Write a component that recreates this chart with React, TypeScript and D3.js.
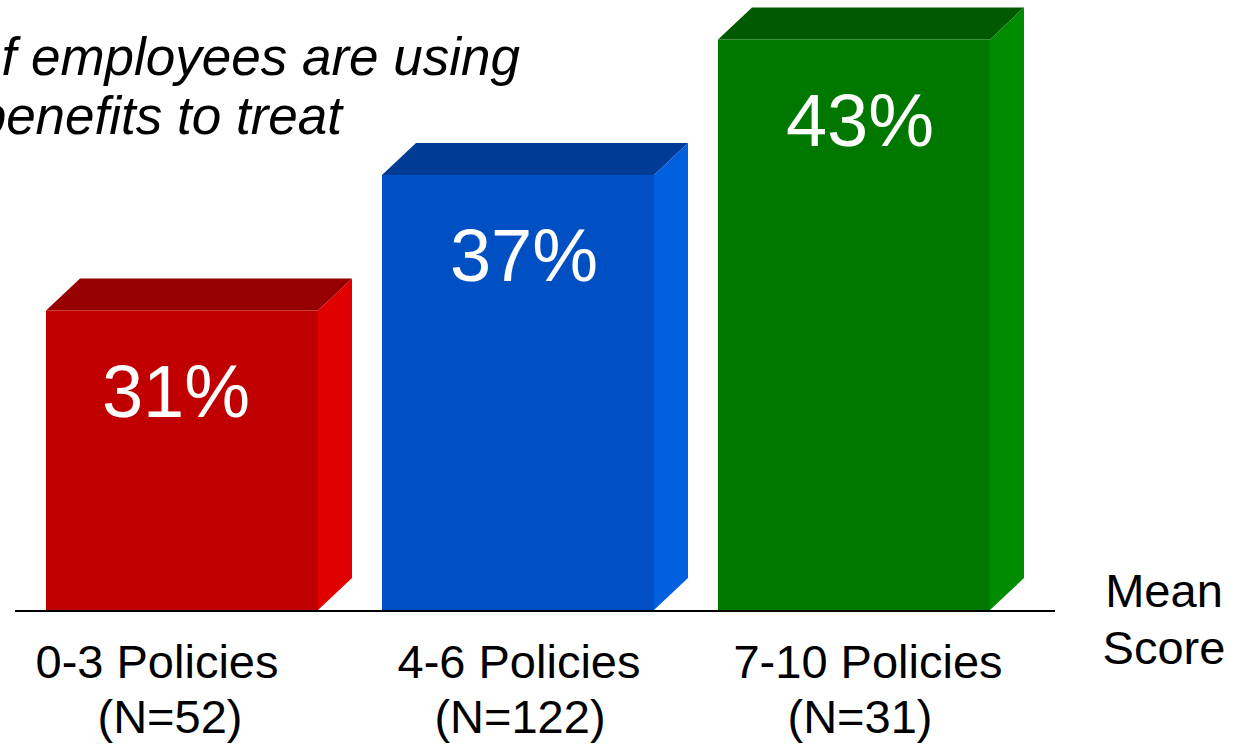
import React from "react";
import * as d3 from "d3";

const categories = ["0-3 Policies", "4-6 Policies", "7-10 Policies"];
const sampleSizes = ["(N=52)", "(N=122)", "(N=31)"];
const values = [31, 37, 43];
const frontColors = ["#C00000", "#0050C3", "#007800"];
const topColors = ["#960000", "#003C96", "#005A00"];
const sideColors = ["#E00000", "#0060E0", "#008C00"];
const titleLines = ["% of employees are using", "benefits to treat"];

// horizontal nudges for the text blocks under and inside each bar
const nameShift = [-25, 1, 14];
const sizeShift = [-12, 2, 6];
const valueShift = [-6, 6, 6];

const W = 1241;
const H = 745;
const baseY = 610;
const depthX = 34;
const depthY = 32;
const font = "'Liberation Sans', Arial, sans-serif";

export default function App() {
  const x = d3
    .scaleBand<string>()
    .domain(categories)
    .range([46, 990])
    .paddingInner(64 / 336)
    .paddingOuter(0);
  const y = d3.scaleLinear().domain([17.74, 43]).range([baseY, 39.5]);
  const bw = x.bandwidth();

  return (
    <svg
      width={W}
      height={H}
      style={{ position: "fixed", left: 0, top: 0, background: "#fff" }}
    >
      {/* title, running off the left edge */}
      <text
        x={520}
        y={75}
        textAnchor="end"
        fontFamily={font}
        fontStyle="italic"
        fontSize={53}
        fill="#000"
      >
        {titleLines[0]}
      </text>
      <text
        x={342}
        y={134}
        textAnchor="end"
        fontFamily={font}
        fontStyle="italic"
        fontSize={53}
        fill="#000"
      >
        {titleLines[1]}
      </text>

      {categories.map((c, i) => {
        const x0 = x(c) as number;
        const x1 = x0 + bw;
        const cx = x0 + bw / 2;
        const yt = y(values[i]);
        const top = [
          [x0, yt],
          [x0 + depthX, yt - depthY],
          [x1 + depthX, yt - depthY],
          [x1, yt],
        ];
        const side = [
          [x1, yt],
          [x1 + depthX, yt - depthY],
          [x1 + depthX, baseY - depthY],
          [x1, baseY],
        ];
        const pts = (p: number[][]) => p.map((q) => q.join(",")).join(" ");
        return (
          <g key={c}>
            <polygon points={pts(top)} fill={topColors[i]} />
            <polygon points={pts(side)} fill={sideColors[i]} />
            <rect x={x0} y={yt} width={bw} height={baseY - yt} fill={frontColors[i]} />
            <text
              x={cx + valueShift[i]}
              y={yt + 106}
              textAnchor="middle"
              fontFamily={font}
              fontSize={74}
              fill="#fff"
            >
              {values[i]}%
            </text>
            <text
              x={cx + nameShift[i]}
              y={678}
              textAnchor="middle"
              fontFamily={font}
              fontSize={47}
              fill="#000"
            >
              {c}
            </text>
            <text
              x={cx + sizeShift[i]}
              y={733}
              textAnchor="middle"
              fontFamily={font}
              fontSize={47}
              fill="#000"
            >
              {sampleSizes[i]}
            </text>
          </g>
        );
      })}

      <line x1={15} x2={1055} y1={baseY + 1} y2={baseY + 1} stroke="#000" strokeWidth={2} />

      <text x={1164} y={607} textAnchor="middle" fontFamily={font} fontSize={47} fill="#000">
        Mean
      </text>
      <text x={1164} y={664} textAnchor="middle" fontFamily={font} fontSize={47} fill="#000">
        Score
      </text>
    </svg>
  );
}
